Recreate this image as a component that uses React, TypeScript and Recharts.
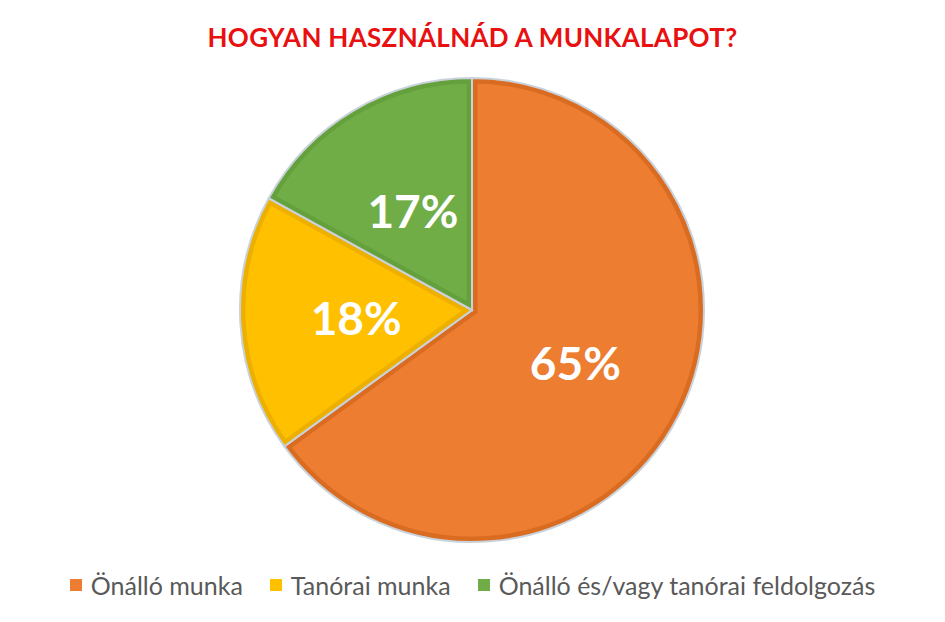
import { PieChart, Pie, Cell, Sector } from "recharts";

const categories = ["Önálló munka", "Tanórai munka", "Önálló és/vagy tanórai feldolgozás"];
const shares = [65, 18, 17];
const colors = ["#ED7D31", "#FFC000", "#70AD47"];
const edgeColors = ["#DA6C22", "#EDB000", "#64A03C"];

const data = categories.map((name, i) => ({ name, value: shares[i] }));

const FONT = "Lato, 'Open Sans', sans-serif";

function BevelSector(props: any) {
  const { cx, cy, innerRadius, outerRadius, startAngle, endAngle, index } = props;
  const id = `clip-slice-${index}`;
  return (
    <g>
      <defs>
        <clipPath id={id}>
          <Sector
            cx={cx}
            cy={cy}
            innerRadius={innerRadius}
            outerRadius={outerRadius}
            startAngle={startAngle}
            endAngle={endAngle}
          />
        </clipPath>
      </defs>
      <Sector
        cx={cx}
        cy={cy}
        innerRadius={innerRadius}
        outerRadius={outerRadius}
        startAngle={startAngle}
        endAngle={endAngle}
        fill={colors[index]}
        stroke={edgeColors[index]}
        strokeWidth={11}
        clipPath={`url(#${id})`}
      />
      <Sector
        cx={cx}
        cy={cy}
        innerRadius={innerRadius}
        outerRadius={outerRadius}
        startAngle={startAngle}
        endAngle={endAngle}
        fill="none"
        stroke="#C9D2DB"
        strokeWidth={2}
      />
    </g>
  );
}

const RAD = Math.PI / 180;

function renderLabel(props: any) {
  const { cx, cy, midAngle, outerRadius, percent } = props;
  const r = outerRadius * 0.5;
  const x = cx + r * Math.cos(-midAngle * RAD);
  const y = cy + r * Math.sin(-midAngle * RAD);
  return (
    <text
      x={x}
      y={y}
      fill="#FFFFFF"
      fontFamily={FONT}
      fontWeight={700}
      fontSize={46}
      textAnchor="middle"
      dominantBaseline="central"
    >
      {`${Math.round(percent * 100)}%`}
    </text>
  );
}

export default function App() {
  return (
    <div
      style={{
        position: "absolute",
        left: 0,
        top: 0,
        width: 945,
        height: 622,
        background: "#FFFFFF",
        fontFamily: FONT,
      }}
    >
      <div
        style={{
          position: "absolute",
          top: 21,
          left: 0,
          width: 945,
          textAlign: "center",
          color: "#E81010",
          fontWeight: 700,
          fontSize: 26,
          letterSpacing: 0.3,
        }}
      >
        HOGYAN HASZNÁLNÁD A MUNKALAPOT?
      </div>

      <PieChart width={945} height={622}>
        <Pie
          data={data}
          dataKey="value"
          nameKey="name"
          cx={467}
          cy={305}
          outerRadius={232}
          startAngle={90}
          endAngle={-270}
          stroke="none"
          shape={BevelSector}
          label={renderLabel}
          labelLine={false}
          isAnimationActive={false}
        >
          {data.map((d, i) => (
            <Cell key={d.name} fill={colors[i]} />
          ))}
        </Pie>
      </PieChart>

      {/* Legend */}
      <div
        style={{
          position: "absolute",
          top: 570,
          left: 0,
          width: 945,
          display: "flex",
          justifyContent: "center",
          alignItems: "center",
          gap: 27,
          color: "#595959",
          fontSize: 25,
        }}
      >
        {categories.map((c, i) => (
          <div key={c} style={{ display: "flex", alignItems: "center" }}>
            <span
              style={{
                display: "inline-block",
                width: 12,
                height: 12,
                background: colors[i],
                marginRight: 9,
              }}
            />
            <span>{c}</span>
          </div>
        ))}
      </div>
    </div>
  );
}
